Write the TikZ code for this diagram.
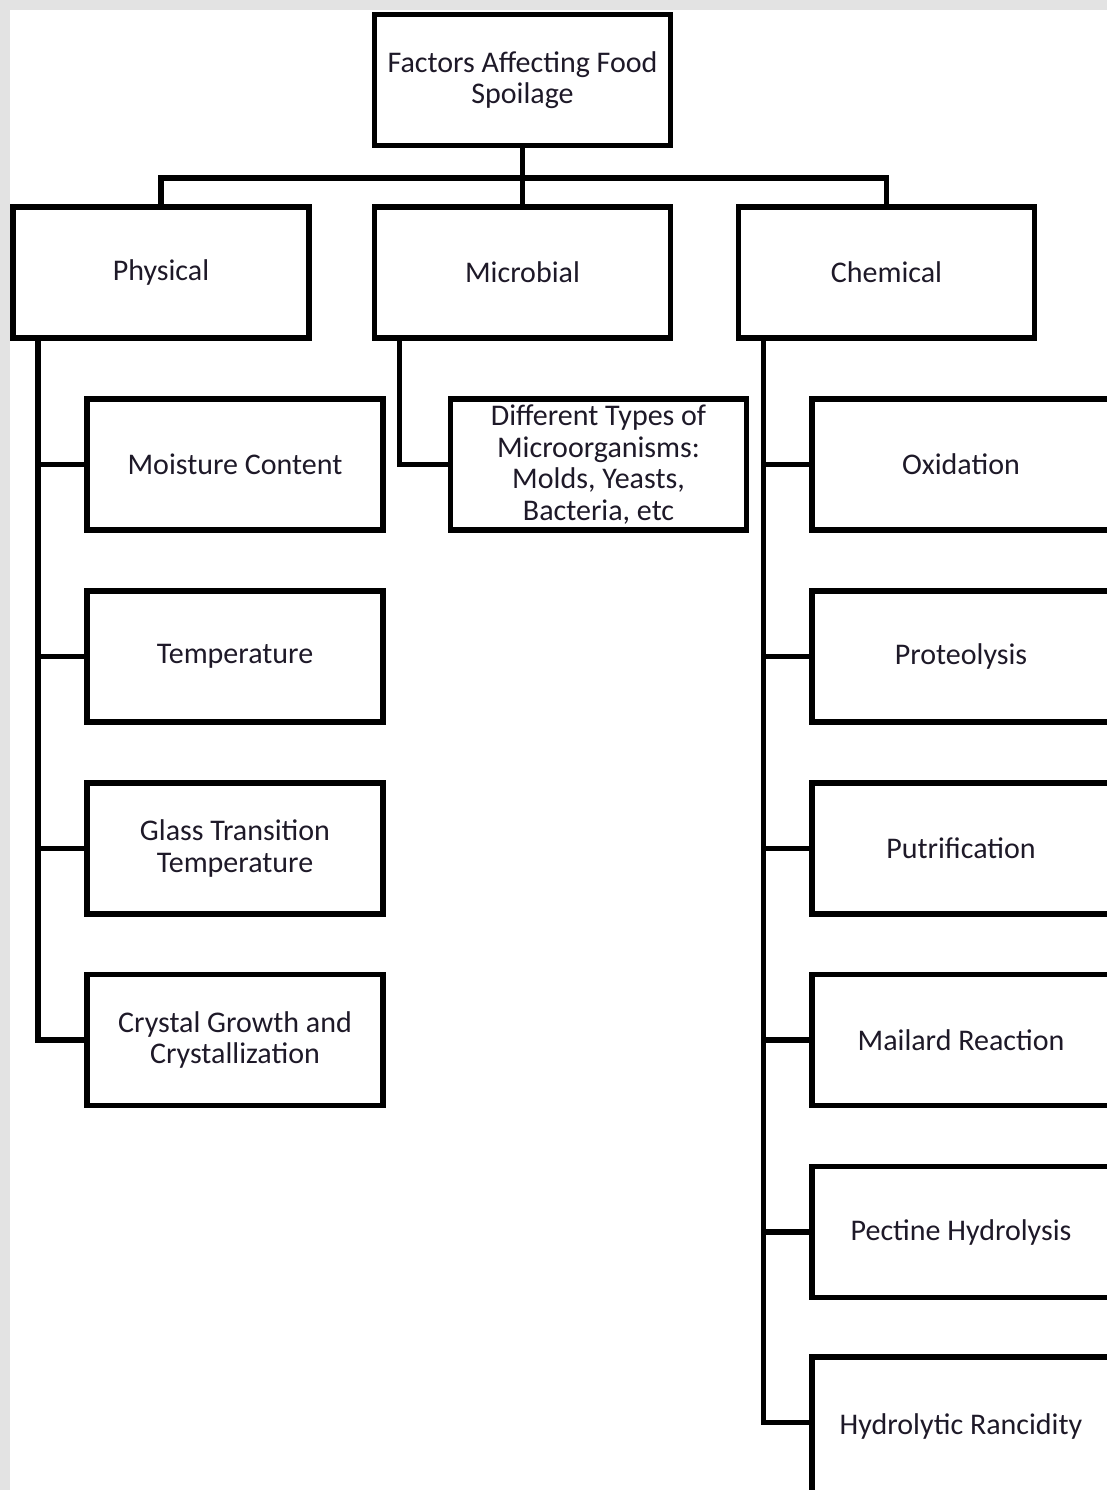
\documentclass[tikz,border=0pt]{standalone}
\usepackage{fontspec}
\setmainfont{Carlito}
\definecolor{bgrey}{RGB}{227,227,227}
\definecolor{labelink}{RGB}{30,25,40}
\begin{document}
\begin{tikzpicture}[x=1pt,y=-1pt,
			every node/.style = {shape=rectangle, draw, line width=5.5pt, align=center,
				minimum width=296pt, minimum height=131pt, inner sep=0pt,
				font=\fontsize{30}{31.5}\selectfont, text=labelink},
			cutoff/.style = {minimum width=316pt},
			link/.style = {line width=5.5pt}]
			
			\useasboundingbox (0,0) rectangle (1107,1490);
			\clip (0,0) rectangle (1107,1490);
			\fill[bgrey] (0,0) rectangle (1107,1490);
			\fill[white] (10,10) rectangle (1107,1490);
			
			\node (root) at (522.5,80) {Factors Affecting Food\\Spoilage};
			\node (phys) at (161,272.5) {Physical};
			\node (micro) at (522.5,272.5) {Microbial};
			\node (chem) at (886.5,272.5) {Chemical};
			
			\node (moist) at (235,464.5) {Moisture Content};
			\node (temp) at (235,656.5) {Temperature};
			\node (glass) at (235,848.5) {Glass Transition\\Temperature};
			\node (cryst) at (235,1040) {Crystal Growth and\\Crystallization};
			
			\node (types) at (598.5,464.5) {Different Types of\\Microorganisms:\\Molds, Yeasts,\\Bacteria, etc};
			
			\node[cutoff] (oxid) at (970,464.5) {\hspace*{-18pt}Oxidation};
			\node[cutoff] (prot) at (970,656.5) {\hspace*{-18pt}Proteolysis};
			\node[cutoff] (putr) at (970,848.5) {\hspace*{-18pt}Putrification};
			\node[cutoff] (mail) at (970,1040) {\hspace*{-18pt}Mailard Reaction};
			\node[cutoff] (pect) at (970,1232) {\hspace*{-18pt}Pectine Hydrolysis};
			\node[cutoff, minimum height=138pt] (hydr) at (970,1426) {\hspace*{-18pt}Hydrolytic Rancidity};
			
			\coordinate (bus) at (522.5,178);
			\draw[link] (phys.north) |- (bus) -| (chem.north);
			\draw[link] (root) -- (micro);
			\foreach \n in {moist,temp,glass,cryst}
				\draw[link] ([xshift=27.5pt]phys.south west) |- (\n.west);
			\draw[link] ([xshift=27.5pt]micro.south west) |- (types.west);
			\foreach \n in {oxid,prot,putr,mail,pect}
				\draw[link] ([xshift=27.5pt]chem.south west) |- (\n.west);
			\draw[link] ([xshift=27.5pt]chem.south west) |- ([yshift=3.5pt]hydr.west);
\end{tikzpicture}
\end{document}
